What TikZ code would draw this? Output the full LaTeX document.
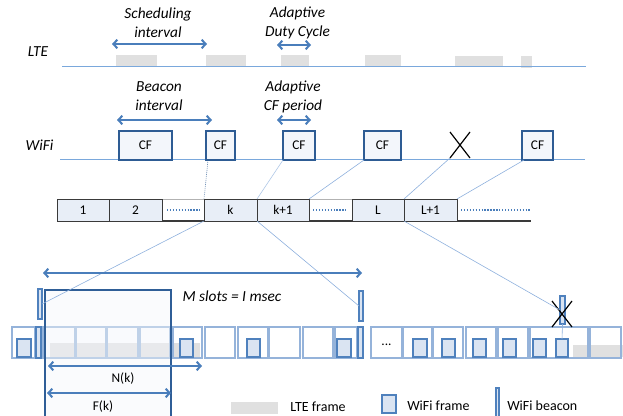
\documentclass[tikz,border=0pt]{standalone}
\usepackage{fontspec}
\setmainfont{Carlito}
\usetikzlibrary{arrows.meta,calc,shapes.misc}
\definecolor{arrowblue}{HTML}{4A7EBB}
\definecolor{lineblue}{HTML}{7AA8DC}
\definecolor{thinblue}{HTML}{8EB0DD}
\definecolor{cfborder}{HTML}{2E5C94}
\definecolor{cffill}{HTML}{F3F6FB}
\definecolor{blockfill}{HTML}{E8EEF7}
\definecolor{blockborder}{HTML}{3A3A3A}
\definecolor{ltegray}{HTML}{E0E0E0}
\definecolor{slotborder}{HTML}{95B3DA}
\definecolor{wififill}{HTML}{DAE4F2}
\definecolor{wifiborder}{HTML}{4F81BD}
\definecolor{bigborder}{HTML}{2F5E97}
\newcommand\mybox[7][]{\node[inner sep=0pt,outer sep=0pt,#1,minimum width={(#4-#2)*0.75pt},minimum height={(#5-#3)*0.75pt}] (#6) at ({(#2+#4)/2},{(#3+#5)/2}) {#7};}
\begin{document}
\begin{tikzpicture}[x=0.75pt,y=-0.75pt,
  lbl/.style={font=\fontsize{11.5}{14.2}\selectfont\itshape,align=center,inner sep=0pt},
  small/.style={font=\fontsize{10}{12}\selectfont},
  legtext/.style={font=\fontsize{10.5}{12}\selectfont,anchor=west,inner sep=0pt},
  dbl/.style={arrowblue,line width=1.5pt,{Straight Barb[length=3pt,width=6.5pt]}-{Straight Barb[length=3pt,width=6.5pt]}},
  tline/.style={lineblue,line width=0.6pt},
  cfbox/.style={draw=cfborder,fill=cffill,line width=1.4pt,font=\fontsize{10}{12}\selectfont},
  blk/.style={draw=blockborder,fill=blockfill,line width=0.7pt,font=\fontsize{10}{12}\selectfont},
  conn/.style={thinblue,line width=0.45pt},
  dotblue/.style={arrowblue,line width=1pt,dash pattern=on 1pt off 1.2pt},
  slotfill/.style={fill=white,draw=none},
  slotdraw/.style={draw=slotborder,line width=0.9pt},
  wframe/.style={draw=wifiborder,fill=wififill,line width=0.8pt},
  beacon/.style={draw=wifiborder,fill=wififill,line width=0.8pt},
  xmark/.style={cross out,draw=black,line width=0.9pt,inner sep=0pt,outer sep=0pt}]
\clip (0,0) rectangle (623,416);
\useasboundingbox (0,0) rectangle (623,416);

% ---------- LTE timeline ----------
\node[lbl] (schedlbl) at (158,22.5) {Scheduling\\interval};
\draw[dbl] (112,44) -- (207,44);
\node[lbl] (dutylbl) at (297.5,22.5) {Adaptive\\Duty Cycle};
\draw[dbl] (277,45) -- (311,45);
\node[lbl] (ltelbl) at (38,52) {LTE};
\foreach \a/\b/\c/\d in {116/55/157/66, 206/55/246/66, 281/55/309/66, 365/55/401/66, 455/56/503/66, 521/56/532/68}
  \fill[ltegray] (\a,\b) rectangle (\c,\d);
\draw[tline] (62,66) -- (586,66);

% ---------- WiFi timeline ----------
\node[lbl] (beaconlbl) at (159,96.5) {Beacon\\interval};
\draw[dbl] (117,120) -- (212,120);
\node[lbl] (cflbl) at (293,96.5) {Adaptive\\CF period};
\draw[dbl] (277,120) -- (311,120);
\node[lbl] (wifilbl) at (39.5,145) {WiFi};
\draw[tline] (60,159) -- (585,159);
\mybox[cfbox]{119}{131}{172}{160}{cf1}{CF}
\mybox[cfbox]{206}{131}{235}{160}{cf2}{CF}
\mybox[cfbox]{283}{131}{315}{160}{cf3}{CF}
\mybox[cfbox]{364}{131}{401}{160}{cf4}{CF}
\mybox[xmark]{450}{132}{470}{158}{xw}{}
\mybox[cfbox]{522}{131}{553}{160}{cf5}{CF}

% ---------- beacon-interval row ----------
\draw[gray!60,line width=0.5pt] (57,199) -- (457,199);
\draw[blockborder,line width=0.8pt] (57,221) -- (531,221);
\mybox[blk]{57}{199}{109}{221}{b1}{1}
\mybox[blk]{109}{199}{162}{221}{b2}{2}
\mybox[blk]{204}{199}{257}{221}{bk}{k}
\mybox[blk]{257}{199}{309}{221}{bk1}{k+1}
\mybox[blk]{352}{199}{404}{221}{bL}{L}
\mybox[blk]{404}{199}{457}{221}{bL1}{L+1}
\draw[dotblue] (167,210) -- (200,210);
\draw[dotblue] (313,210) -- (346,210);
\draw[dotblue] (461,210) -- (531,210);

% connectors CF -> row
\draw[cfborder,line width=0.5pt,densely dotted] ($(cf2.south west)+(2,0)$) -- (bk.north west);
\draw[conn,thinblue!70] (cf3.south west) -- (bk.north east);
\draw[conn] (cf4.south west) -- (bk1.north east);
\draw[conn] (xw.south west) -- (bL.north east);
\draw[conn] ($(cf5.south west)+(2,0)$) -- (bL1.north east);

% ---------- slot row ----------
\foreach \a/\b [count=\i] in {12/35,43/75,76/106,107/138,140/170,173/202,205/235,238/268,269/300,303/333,335/357,371/402,403/432,433/463,466/496,498/528,530/588,590/621}
  {\mybox[slotfill]{\a}{327}{\b}{358}{s\i}{}}
\fill[ltegray] (50,343) rectangle (200,358);
\fill[ltegray] (573,345) rectangle (623,357);
\foreach \a/\b [count=\i] in {12/35,43/75,76/106,107/138,140/170,173/202,205/235,238/268,269/300,303/333,335/357,371/402,403/432,433/463,466/496,498/528,530/588,590/621}
  {\draw[black!12,line width=0.8pt] (\a+1,358.8) -- (\b+0.8,358.8) -- (\b+0.8,328);
   \mybox[slotdraw]{\a}{327}{\b}{358}{s\i}{}}
\node[small,inner sep=0pt] (dots) at (s12) [yshift=-2pt] {...};
\foreach \a/\b [count=\i] in {17/31,180/193,247/260,337/351,413/427,442/455,473/486,503/516,533/546,556/568}
  {\mybox[wframe]{\a}{339}{\b}{357}{f\i}{}}
\mybox[beacon]{36}{327}{41}{358}{bb1}{}
\mybox[beacon]{358}{327}{363}{358}{bb2}{}
\mybox[beacon]{38}{289}{42}{319}{b1u}{}
\mybox[beacon]{359}{291}{363}{321}{b2u}{}
\mybox[beacon]{560}{296}{565}{324}{b3u}{}
\draw[conn] (b3u.south) -- (f10.north);
\mybox[xmark]{552}{301}{572}{327}{xb}{}

% big frame F(k)
\fill[cffill,fill opacity=0.45] (45,290) rectangle (171,420);
\draw[bigborder,line width=1.1pt] (45,420) -- (45,290) -- (171,290) -- (171,420);

% connectors row -> slots
\draw[conn] (bk.south west) -- (b1u.east);
\draw[conn] (bk.south east) -- (b2u.west);
\draw[conn] (bL1.south west) -- (b3u.west);

% arrows and labels
\draw[dbl] (43,273) -- (362,273);
\node[lbl] (mlbl) at (232,296) {M slots = I msec};
\draw[dbl] (48,366) -- (202,366);
\node[small] (nk) at (123,379) {N(k)};
\draw[dbl] (47,393) -- (171,393);
\node[small] (fk) at (103,407) {F(k)};

% legend
\fill[ltegray] (231,402) rectangle (278,414);
\node[legtext] (leg1) at (290,407) {LTE frame};
\mybox[wframe]{382}{395}{396}{413}{legf}{}
\node[legtext] (leg2) at (407,406) {WiFi frame};
\mybox[beacon]{496}{388}{499}{422}{legb}{}
\node[legtext] (leg3) at (507,406) {WiFi beacon};
\end{tikzpicture}
\end{document}
